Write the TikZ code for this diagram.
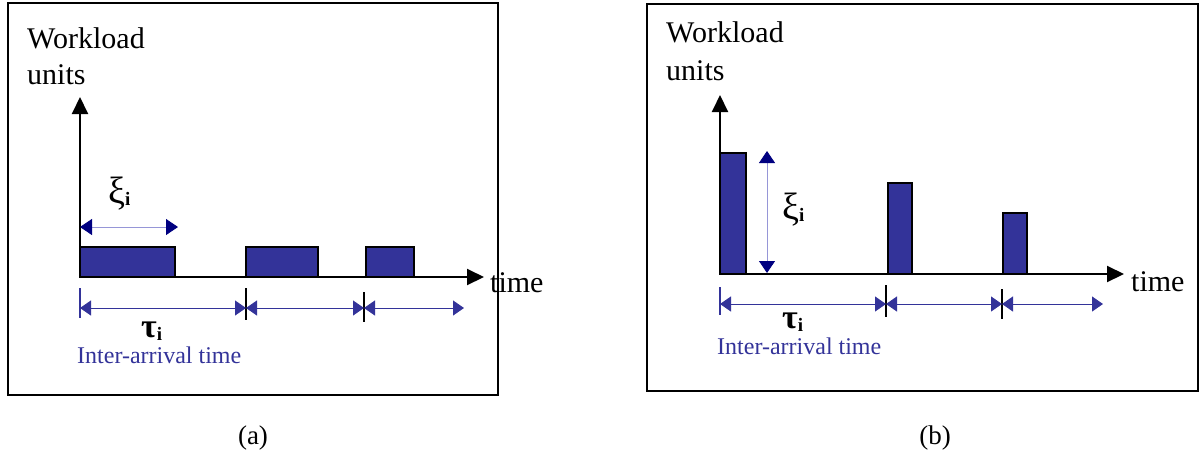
\documentclass[tikz,border=0pt]{standalone}
\usepackage{fontspec}
\setmainfont{Liberation Serif}
\usetikzlibrary{arrows.meta}
\definecolor{barblue}{RGB}{51,51,153}
\definecolor{navy}{RGB}{0,0,128}
\definecolor{paleblue}{RGB}{150,150,215}
\begin{document}
\begin{tikzpicture}[x=1pt,y=-1pt,
  panel/.style={draw=black, line width=1.3pt},
  axis/.style={line width=2pt, -{Triangle[length=17pt,width=16pt]}},
  bar/.style={draw=black, fill=barblue, line width=2pt},
  tick/.style={draw=black, line width=1.3pt},
  firsttick/.style={draw=barblue, line width=1.3pt},
  span/.style={draw=barblue, line width=1pt,
    {Triangle[length=11pt,width=15pt]}-{Triangle[length=11pt,width=15pt]}},
  extent/.style={draw=paleblue, line width=0.9pt,
    {Triangle[color=navy,length=12pt,width=16pt]}-{Triangle[color=navy,length=12pt,width=16pt]}},
  big/.style={font=\fontsize{30}{33}\selectfont, inner sep=0pt, anchor=base west},
  xisym/.style={font=\fontsize{38}{40}\selectfont, inner sep=0pt, anchor=base west},
  tausym/.style={font=\fontsize{34}{36}\selectfont\bfseries, inner sep=0pt, anchor=base west},
  note/.style={font=\fontsize{24}{27}\selectfont, text=barblue, inner sep=0pt, anchor=base west},
  caption/.style={font=\fontsize{27}{30}\selectfont, inner sep=0pt, anchor=base},
]
\useasboundingbox (0,0) rectangle (1204,456);

% ---------------- panel (a): long jobs ----------------
\draw[panel] (8,3) rectangle (498,395);
\node[big] (ya) at (27,48) {Workload};
\node[big] (yb) at (27,84) {units};
\coordinate (oA) at (80,277);
\coordinate (yA) at (80,97);
\coordinate (xA) at (484,277);
\draw[bar] (80,247) rectangle (175,277);
\draw[bar] (246,247) rectangle (318,277);
\draw[bar] (366,247) rectangle (414,277);
\draw[axis] (oA) -- (yA);
\draw[axis] (oA) -- (xA);
\node[big] (ta) at (490,292) {time};
% job size
\coordinate (xa1) at (80,227);
\coordinate (xa2) at (178,227);
\draw[extent] (xa1) -- (xa2);
\node[xisym] (xia) at (108,203) {ξ\raisebox{-2pt}{\fontsize{19}{20}\selectfont\bfseries i}};
% inter-arrival spans
\coordinate (ta0) at (80,308);
\coordinate (ta1) at (246,308);
\coordinate (ta2) at (364,308);
\coordinate (ta3) at (464,308);
\draw[firsttick] (80,288) -- (80,318);
\draw[tick] (246,288) -- (246,320);
\draw[tick] (364,292) -- (364,322);
\draw[span] (ta0) -- (ta1);
\draw[span] (ta1) -- (ta2);
\draw[span] (ta2) -- (ta3);
\node[tausym] (taua) at (141,337) {τ\raisebox{-3pt}{\fontsize{19}{20}\selectfont\bfseries i}};
\node[note] (ia) at (77,363) {Inter-arrival time};
\node[caption] (ca) at (253,444) {(a)};

% ---------------- panel (b): short jobs ----------------
\draw[panel] (647,4) rectangle (1198,391);
\node[big] (yc) at (666,42) {Workload};
\node[big] (yd) at (666,80) {units};
\coordinate (oB) at (720,274);
\coordinate (yB) at (720,95);
\coordinate (xB) at (1124,274);
\draw[bar] (720,153) rectangle (746,274);
\draw[bar] (888,183) rectangle (912,274);
\draw[bar] (1003,213) rectangle (1027,274);
\draw[axis] (oB) -- (yB);
\draw[axis] (oB) -- (xB);
\node[big] (tb) at (1131,291) {time};
% job size
\coordinate (xb1) at (767,151);
\coordinate (xb2) at (767,273);
\draw[extent] (xb1) -- (xb2);
\node[xisym] (xib) at (782,219) {ξ\raisebox{-2pt}{\fontsize{19}{20}\selectfont\bfseries i}};
% inter-arrival spans
\coordinate (tb0) at (720,304);
\coordinate (tb1) at (886,304);
\coordinate (tb2) at (1002,304);
\coordinate (tb3) at (1103,304);
\draw[firsttick] (720,287) -- (720,315);
\draw[tick] (886,285) -- (886,317);
\draw[tick] (1002,289) -- (1002,319);
\draw[span] (tb0) -- (tb1);
\draw[span] (tb1) -- (tb2);
\draw[span] (tb2) -- (tb3);
\node[tausym] (taub) at (782,328) {τ\raisebox{-3pt}{\fontsize{19}{20}\selectfont\bfseries i}};
\node[note] (ib) at (717,354) {Inter-arrival time};
\node[caption] (cb) at (935,444) {(b)};
\end{tikzpicture}
\end{document}
